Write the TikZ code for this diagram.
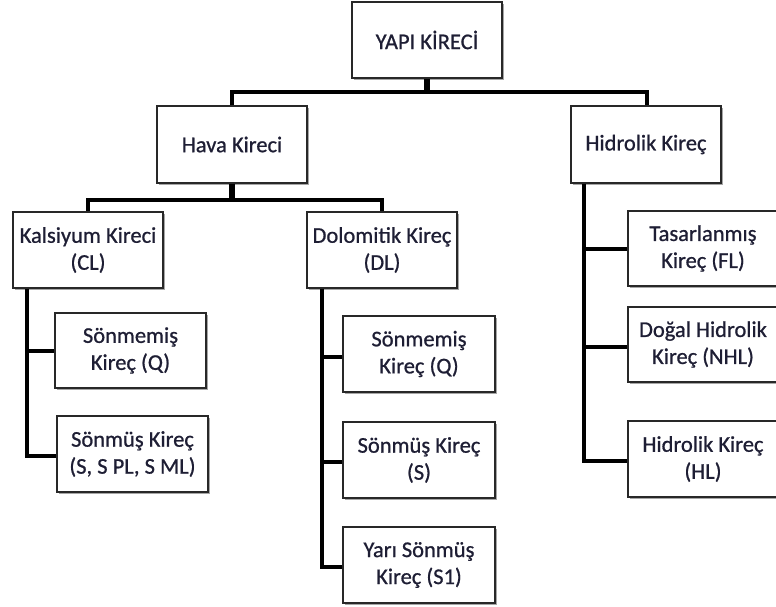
\documentclass[tikz,border=0pt]{standalone}
\usepackage{fontspec}
\setmainfont{Carlito}
\newfontfamily\boxfont{Carlito}[FakeBold=0.8]
\usetikzlibrary{shadows,calc}
\definecolor{txt}{RGB}{30,30,52}
\definecolor{boxline}{RGB}{40,40,40}
\begin{document}
\begin{tikzpicture}[x=1pt,y=-1pt,
  box/.style={draw=boxline, line width=1.4pt, fill=white, rectangle,
    inner sep=0pt, align=center, text=txt,
    font=\boxfont\fontsize{22.5}{27}\selectfont,
    drop shadow={shadow xshift=1.5pt, shadow yshift=-1.8pt, opacity=0.35, fill=black}},
  conn/.style={draw=black, line width=4pt, line join=miter},
  stub/.style={draw=black, line width=6pt}]
\useasboundingbox (0,0) rectangle (776,606);
\fill[white] (0,0) rectangle (776,606);

% nodes
\node[box, minimum width=150pt, minimum height=76pt] (top) at (427,40) {YAPI KİRECİ};
\node[box, minimum width=150pt, minimum height=77pt] (hava) at (232,144.5) {Hava Kireci};
\node[box, minimum width=150pt, minimum height=77pt] (hidro) at (646,144.5) {Hidrolik Kireç};
\node[box, minimum width=150pt, minimum height=76pt] (kals) at (88,250) {Kalsiyum Kireci\\(CL)};
\node[box, minimum width=150pt, minimum height=76pt] (dolo) at (382,250) {Dolomitik Kireç\\(DL)};
\node[box, minimum width=151pt, minimum height=75pt] (q1) at (130.5,350.5) {Sönmemiş\\Kireç (Q)};
\node[box, minimum width=151pt, minimum height=76pt] (s1) at (132.5,454) {Sönmüş Kireç\\(S, S PL, S ML)};
\node[box, minimum width=152pt, minimum height=76pt] (q2) at (419,354) {Sönmemiş\\Kireç (Q)};
\node[box, minimum width=152pt, minimum height=76pt] (s2) at (419,460) {Sönmüş Kireç\\(S)};
\node[box, minimum width=152pt, minimum height=76pt] (y2) at (419,565) {Yarı Sönmüş\\Kireç (S1)};
\node[box, minimum width=150pt, minimum height=75pt] (fl) at (703,248.5) {Tasarlanmış\\Kireç (FL)};
\node[box, minimum width=150pt, minimum height=75pt] (nhl) at (703,344.5) {Doğal Hidrolik\\Kireç (NHL)};
\node[box, minimum width=150pt, minimum height=76pt] (hl) at (703,459) {Hidrolik Kireç\\(HL)};

% connectors
\coordinate (j0) at ($(top.south)+(0,13)$);
\draw[stub] (top.south) -- (j0);
\draw[conn] (j0) -| (hava.north);
\draw[conn] (j0) -| ($(hidro.north)+(1,0)$);
\coordinate (j1) at ($(hava.south)+(0,16)$);
\draw[stub] (hava.south) -- (j1);
\draw[conn] (j1) -| (kals.north);
\draw[conn] (j1) -| (dolo.north);

\coordinate (tk) at ($(kals.south)+(-61,0)$);
\draw[conn] (tk) |- ($(s1.west)+(0,2)$);
\draw[conn] (tk |- q1.west) -- (q1.west);

\coordinate (td) at ($(dolo.south)+(-60,0)$);
\draw[conn] (td) |- ($(y2.west)+(0,2)$);
\draw[conn] ($(td |- q2.west)+(0,3)$) -- ($(q2.west)+(0,3)$);
\draw[conn] ($(td |- s2.west)+(0,2)$) -- ($(s2.west)+(0,2)$);

\coordinate (th) at ($(hidro.south)+(-62,0)$);
\draw[conn] (th) |- ($(hl.west)+(0,2)$);
\draw[conn] (th |- fl.west) -- (fl.west);
\draw[conn] ($(th |- nhl.west)+(0,2)$) -- ($(nhl.west)+(0,2)$);
\end{tikzpicture}
\end{document}
